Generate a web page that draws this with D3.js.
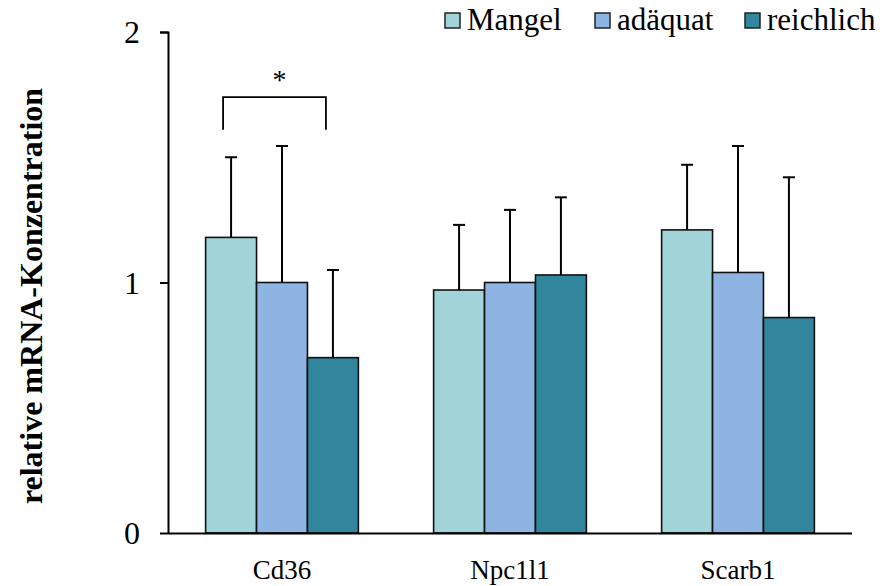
<!DOCTYPE html>
<html>
<head>
<meta charset="utf-8">
<script src="https://cdn.jsdelivr.net/npm/d3@7"></script>
<style>
  body { margin: 0; background: #fff; }
  svg text { font-family: "Liberation Serif", "Times New Roman", serif; fill: #000; }
</style>
</head>
<body>
<script>
// data
var genes = ["Cd36", "Npc1l1", "Scarb1"];
var groups = ["Mangel", "adäquat", "reichlich"];
var colors = ["#a0d4d8", "#8eb4e3", "#31859c"];
var mangel = [1.18, 0.97, 1.21];
var adaequat = [1.00, 1.00, 1.04];
var reichlich = [0.70, 1.03, 0.86];
var mangelErr = [0.32, 0.26, 0.26];
var adaequatErr = [0.545, 0.29, 0.505];
var reichlichErr = [0.35, 0.31, 0.56];
var yTicks = [0, 1, 2];

var width = 885, height = 586;
var margin = { left: 168, right: 33, top: 32, bottom: 53 };
var innerW = width - margin.left - margin.right;
var innerH = height - margin.top - margin.bottom;
var serif = '"Liberation Serif", "Times New Roman", serif';

var values = [mangel, adaequat, reichlich];
var errors = [mangelErr, adaequatErr, reichlichErr];
var rows = [];
genes.forEach(function (g, i) {
  groups.forEach(function (s, j) {
    rows.push({ gene: g, group: s, idx: j, value: values[j][i], err: errors[j][i] });
  });
});

var svg = d3.select("body").append("svg")
  .attr("width", width)
  .attr("height", height)
  .attr("font-family", serif);

var g = svg.append("g")
  .attr("transform", "translate(" + margin.left + "," + margin.top + ")");

var x = d3.scaleBand().domain(genes).range([0, innerW]).paddingInner(0.33).paddingOuter(0.165);
var xs = d3.scaleBand().domain(groups).range([0, x.bandwidth()]);
var y = d3.scaleLinear().domain([0, 2]).range([innerH, 0]);

// bars
g.selectAll("rect.bar")
  .data(rows)
  .enter()
  .append("rect")
  .attr("class", "bar")
  .attr("x", function (d) { return x(d.gene) + xs(d.group); })
  .attr("y", function (d) { return y(d.value); })
  .attr("width", xs.bandwidth())
  .attr("height", function (d) { return y(0) - y(d.value); })
  .style("fill", function (d) { return colors[d.idx]; })
  .style("stroke", "#111")
  .style("stroke-width", 1.6);

// error bars (upper only)
var eb = g.append("g").attr("class", "errors");
rows.forEach(function (d) {
  var cx = x(d.gene) + xs(d.group) + xs.bandwidth() / 2;
  eb.append("line")
    .attr("x1", cx).attr("x2", cx)
    .attr("y1", y(d.value)).attr("y2", y(d.value + d.err))
    .style("stroke", "#000").style("stroke-width", 2);
  eb.append("line")
    .attr("x1", cx - 6).attr("x2", cx + 6)
    .attr("y1", y(d.value + d.err)).attr("y2", y(d.value + d.err))
    .style("stroke", "#000").style("stroke-width", 2);
});

// y axis
var yAxis = d3.axisLeft(y).tickValues(yTicks).tickFormat(d3.format("d")).tickSize(8).tickPadding(20);
var ya = g.append("g").call(yAxis).attr("font-family", serif);
ya.select(".domain").attr("d", "M-8,0.5H0.5V" + innerH).style("stroke-width", 2);
ya.selectAll(".tick line").style("stroke-width", 2);
ya.selectAll(".tick text").style("font-size", "32px").attr("dy", "0.34em");

// x axis
var xAxis = d3.axisBottom(x).tickSize(0).tickPadding(27);
var xa = g.append("g").attr("transform", "translate(0," + innerH + ")").call(xAxis).attr("font-family", serif);
xa.select(".domain").attr("d", "M0,0.5H" + innerW).style("stroke-width", 2);
xa.selectAll(".tick text").style("font-size", "27px");

// y title
svg.append("text")
  .attr("transform", "translate(42,296) rotate(-90)")
  .style("text-anchor", "middle")
  .style("font-weight", "bold")
  .style("font-size", "32px")
  .text("relative mRNA-Konzentration");

// significance bracket Cd36: Mangel vs reichlich
var bx1 = x("Cd36") + xs("Mangel") + xs.bandwidth() / 2 - 8;
var bx2 = x("Cd36") + xs("reichlich") + xs.bandwidth() / 2 - 7;
var byTop = y(1.74), byBot = y(1.61);
g.append("path")
  .attr("d", "M" + bx1 + "," + byBot + "V" + byTop + "H" + bx2 + "V" + byBot)
  .style("fill", "none").style("stroke", "#000").style("stroke-width", 1.8);
g.append("text")
  .attr("x", (bx1 + bx2) / 2 + 5)
  .attr("y", y(1.74) - 8)
  .style("text-anchor", "middle")
  .style("font-size", "28px")
  .text("*");

// legend
var legendX = [445, 595, 745];
var legend = svg.append("g");
groups.forEach(function (s, j) {
  legend.append("rect")
    .attr("x", legendX[j]).attr("y", 13)
    .attr("width", 15).attr("height", 15)
    .style("fill", colors[j]).style("stroke", "#222").style("stroke-width", 1.5);
  legend.append("text")
    .attr("x", legendX[j] + 22).attr("y", 30)
    .style("font-size", "31px")
    .text(s);
});
</script>
</body>
</html>
